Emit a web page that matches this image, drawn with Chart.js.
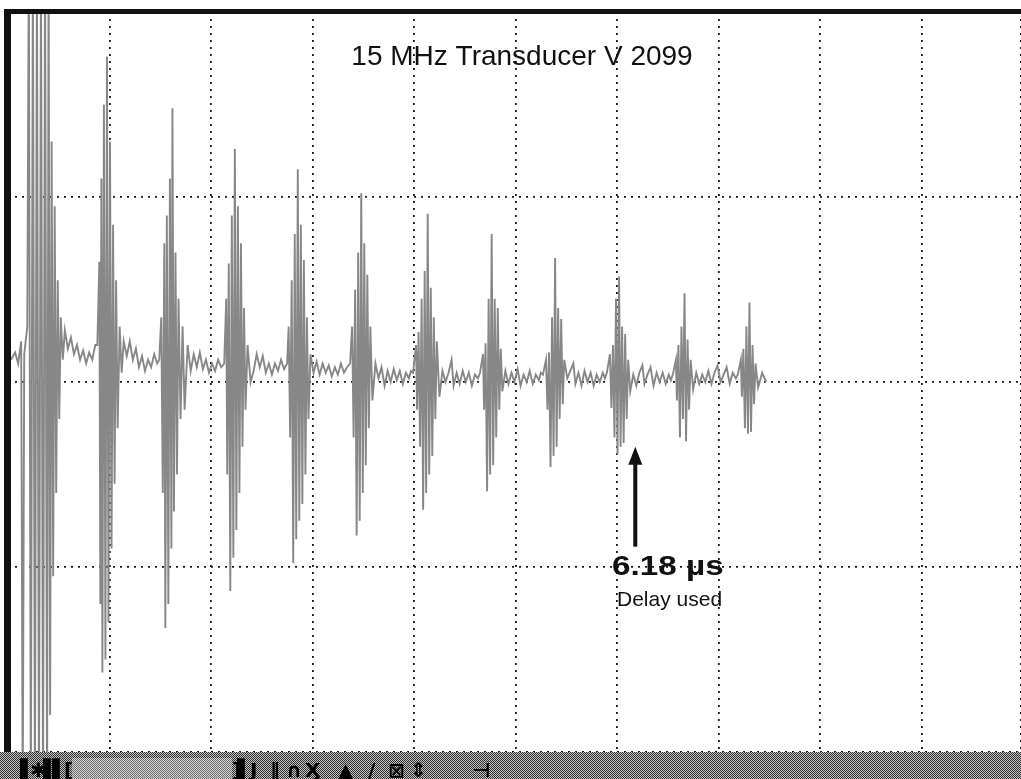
<!DOCTYPE html>
<html>
<head>
<meta charset="utf-8">
<script src="https://cdn.jsdelivr.net/npm/chart.js@4.4.0/dist/chart.umd.min.js"></script>
<style>
  html, body { margin: 0; padding: 0; background: #fff; }
  #wrap { width: 1021px; height: 779px; position: relative; }
</style>
</head>
<body>
<div id="wrap"><canvas id="scope"></canvas></div>
<script>
// time in µs (1 µs per division), amplitude in screen divisions
const bang = [
  [0.03, 0.12], [0.07, 0.16], [0.10, 0.10], [0.13, 0.22], [0.145, -2.3], [0.16, 0.15],
  [0.19, 0.3], [0.205, 2.3], [0.225, -2.3], [0.245, 2.3], [0.265, -2.3], [0.285, 2.3],
  [0.305, -2.3], [0.325, 2.3], [0.345, -2.3], [0.365, 2.3], [0.385, -2.3], [0.40, 2.3],
  [0.415, -1.8], [0.43, 1.3], [0.445, -1.05], [0.46, 0.95], [0.475, -0.6], [0.49, 0.55],
  [0.505, -0.2], [0.52, 0.35], [0.54, 0.12], [0.56, 0.28], [0.59, 0.18], [0.62, 0.24],
  [0.65, 0.15], [0.68, 0.2], [0.71, 0.12], [0.74, 0.17], [0.77, 0.1], [0.80, 0.16],
  [0.83, 0.12], [0.86, 0.2]
];
const echo1 = [
  [0.88, 0.2], [0.90, 0.65], [0.91, -1.2], [0.92, 1.1], [0.93, -1.57], [0.945, 1.5],
  [0.96, -1.5], [0.975, 1.76], [0.99, -1.3], [1.005, 1.3], [1.02, -0.9], [1.035, 0.85],
  [1.05, -0.55], [1.065, 0.55], [1.08, -0.25], [1.10, 0.3], [1.12, 0.05], [1.14, 0.22],
  [1.17, 0.14], [1.20, 0.22], [1.23, 0.12], [1.26, 0.18], [1.29, 0.08], [1.32, 0.14],
  [1.35, 0.06], [1.38, 0.12], [1.41, 0.08], [1.44, 0.15], [1.47, 0.1]
];
const echo2 = [
  [1.49, 0.12], [1.51, 0.35], [1.525, -0.6], [1.54, 0.75], [1.55, -1.33], [1.565, 0.9],
  [1.58, -1.2], [1.595, 1.1], [1.61, -0.9], [1.62, 1.48], [1.635, -0.7], [1.65, 0.7],
  [1.665, -0.5], [1.68, 0.45], [1.70, -0.2], [1.72, 0.3], [1.74, -0.15], [1.77, 0.2],
  [1.80, 0.06], [1.83, 0.15], [1.86, 0.08], [1.89, 0.16], [1.92, 0.07], [1.95, 0.12],
  [1.98, 0.05], [2.01, 0.1], [2.04, 0.06], [2.07, 0.12], [2.10, 0.08]
];
const echo3 = [
  [2.13, 0.1], [2.15, 0.45], [2.16, -0.5], [2.175, 0.64], [2.19, -1.13], [2.205, 0.9],
  [2.22, -0.95], [2.235, 1.26], [2.25, -0.8], [2.265, 0.95], [2.28, -0.6], [2.295, 0.75],
  [2.31, -0.35], [2.325, 0.4], [2.34, -0.15], [2.36, 0.2], [2.39, 0.0], [2.42, 0.06],
  [2.45, 0.15], [2.48, 0.08], [2.51, 0.14], [2.54, 0.05], [2.57, 0.1], [2.60, 0.04],
  [2.63, 0.1], [2.66, 0.06], [2.69, 0.12], [2.72, 0.07]
];
const echo4 = [
  [2.75, 0.1], [2.765, 0.3], [2.78, -0.3], [2.795, 0.55], [2.81, -0.98], [2.825, 0.8],
  [2.84, -0.85], [2.855, 1.15], [2.87, -0.75], [2.885, 0.85], [2.90, -0.66], [2.915, 0.66],
  [2.93, -0.5], [2.945, 0.35], [2.96, -0.2], [2.98, 0.15], [3.01, 0.05], [3.04, 0.11],
  [3.07, 0.04], [3.10, 0.1], [3.13, 0.05], [3.16, 0.09], [3.19, 0.03], [3.22, 0.08],
  [3.25, 0.04], [3.28, 0.1], [3.31, 0.05], [3.34, 0.08]
];
const echo5 = [
  [3.37, 0.1], [3.39, 0.3], [3.405, -0.3], [3.42, 0.5], [3.435, -0.83], [3.45, 0.7],
  [3.465, -0.75], [3.48, 1.02], [3.495, -0.6], [3.51, 0.75], [3.525, -0.45], [3.54, 0.58],
  [3.555, -0.25], [3.57, 0.3], [3.59, -0.1], [3.62, 0.1], [3.65, 0.02], [3.68, 0.08],
  [3.71, -0.02], [3.74, 0.06], [3.77, 0.0], [3.80, 0.07], [3.83, 0.01], [3.86, 0.06],
  [3.89, -0.01], [3.92, 0.05], [3.95, 0.02], [3.97, 0.06]
];
const echo6 = [
  [3.99, 0.05], [4.02, 0.2], [4.03, -0.15], [4.045, 0.27], [4.06, -0.35], [4.075, 0.45],
  [4.09, -0.69], [4.105, 0.6], [4.12, -0.6], [4.135, 0.91], [4.15, -0.5], [4.165, 0.51],
  [4.18, -0.4], [4.195, 0.35], [4.21, -0.2], [4.225, 0.22], [4.25, -0.08], [4.28, 0.06],
  [4.31, 0.0], [4.34, 0.05], [4.37, 0.12], [4.39, -0.02], [4.42, 0.05], [4.45, -0.01],
  [4.48, 0.06], [4.51, 0.0], [4.54, 0.05], [4.57, -0.02], [4.60, 0.04], [4.63, 0.02]
];
const echo7 = [
  [4.65, 0.05], [4.68, 0.15], [4.69, -0.15], [4.705, 0.21], [4.72, -0.59], [4.735, 0.45],
  [4.75, -0.5], [4.765, 0.8], [4.78, -0.45], [4.795, 0.45], [4.81, -0.3], [4.825, 0.4],
  [4.84, -0.15], [4.855, 0.18], [4.87, -0.05], [4.90, 0.06], [4.93, -0.01], [4.96, 0.05],
  [4.99, 0.0], [5.02, 0.07], [5.05, -0.02], [5.08, 0.04], [5.11, 0.0], [5.14, 0.06],
  [5.17, -0.01], [5.20, 0.04], [5.23, 0.01], [5.25, 0.05]
];
const echo8 = [
  [5.27, 0.04], [5.30, 0.12], [5.315, -0.15], [5.33, 0.16], [5.345, -0.46], [5.36, 0.35],
  [5.375, -0.4], [5.39, 0.67], [5.405, -0.35], [5.42, 0.4], [5.435, -0.2], [5.45, 0.34],
  [5.465, -0.12], [5.48, 0.12], [5.51, 0.02], [5.54, 0.06], [5.57, 0.1], [5.59, -0.01],
  [5.62, 0.05], [5.65, -0.02], [5.68, 0.06], [5.71, 0.0], [5.74, 0.05], [5.77, -0.02],
  [5.80, 0.04], [5.83, 0.0], [5.86, 0.05], [5.88, 0.02]
];
const echo9 = [
  [5.90, 0.05], [5.93, 0.15], [5.945, -0.14], [5.96, 0.2], [5.975, -0.3], [5.99, 0.45],
  [6.005, -0.39], [6.02, 0.57], [6.035, -0.35], [6.05, 0.3], [6.065, -0.33], [6.08, 0.26],
  [6.095, -0.2], [6.11, 0.12], [6.13, -0.05], [6.16, 0.04], [6.19, -0.02], [6.22, 0.05],
  [6.25, 0.09], [6.27, -0.01], [6.30, 0.04], [6.33, 0.08], [6.36, -0.02], [6.39, 0.05],
  [6.42, 0.0], [6.45, 0.05], [6.48, -0.01], [6.51, 0.04], [6.53, 0.01]
];
const echo10 = [
  [6.55, 0.04], [6.58, 0.12], [6.59, -0.1], [6.605, 0.2], [6.62, -0.3], [6.635, 0.3],
  [6.65, -0.2], [6.665, 0.48], [6.68, -0.32], [6.695, 0.23], [6.71, -0.15], [6.725, 0.12],
  [6.75, -0.04], [6.78, 0.05], [6.81, -0.01], [6.84, 0.04], [6.87, 0.0], [6.90, 0.06],
  [6.93, -0.01], [6.96, 0.05], [6.99, 0.09], [7.02, 0.0], [7.05, 0.04], [7.08, 0.08],
  [7.11, -0.01], [7.14, 0.05], [7.17, 0.02]
];
const echo11 = [
  [7.19, 0.04], [7.22, 0.12], [7.23, -0.08], [7.245, 0.18], [7.26, -0.25], [7.275, 0.3],
  [7.29, -0.28], [7.305, 0.43], [7.32, -0.27], [7.335, 0.2], [7.35, -0.12], [7.365, 0.1],
  [7.39, -0.03], [7.43, 0.05], [7.47, 0.0]
];

const traceSegments = [bang, echo1, echo2, echo3, echo4, echo5, echo6, echo7, echo8, echo9, echo10, echo11];

const timeRange = [0, 9.98];   // µs shown on screen
const voltRange = [-2, 2];     // divisions shown on screen
const delayUs = 6.18;
const titleText = '15 MHz Transducer V 2099';
const delayLabel = '6.18 µs';
const delayNote = 'Delay used';
const toolbarIcons = [
  ['▌', 20], ['✱', 30], ['▌', 43], ['▌', 52], ['[', 64], [']', 232], ['▌', 237],
  ['J', 250], ['‖', 270], ['∩', 286], ['Ӽ', 305], ['▲', 338], ['/', 368],
  ['⊠', 388], ['⇕', 410], ['⊣', 472]
];

const tracePoints = [];
traceSegments.forEach(seg => seg.forEach(p => tracePoints.push({ x: p[0], y: p[1] })));

// halftone grey like the scanned status bar
function halftone(ctx) {
  const c = document.createElement('canvas');
  c.width = 2; c.height = 2;
  const g = c.getContext('2d');
  g.fillStyle = '#c4c4c4'; g.fillRect(0, 0, 2, 2);
  g.fillStyle = '#2e2e2e'; g.fillRect(0, 0, 1, 1); g.fillRect(1, 1, 1, 1);
  return ctx.createPattern(c, 'repeat');
}

const scopeDecor = {
  id: 'scopeDecor',
  beforeDraw(chart) {
    const ctx = chart.ctx;
    ctx.save();
    ctx.fillStyle = '#fff';
    ctx.fillRect(0, 0, chart.width, chart.height);
    ctx.restore();
  },
  afterDraw(chart) {
    const ctx = chart.ctx;
    const a = chart.chartArea;
    const xs = chart.scales.x, ys = chart.scales.y;
    ctx.save();

    // bottom status bar
    ctx.fillStyle = halftone(ctx);
    ctx.fillRect(0, a.bottom, chart.width, chart.height - a.bottom);
    ctx.fillStyle = 'rgba(255,255,255,0.3)';
    ctx.fillRect(72, a.bottom + 6, 160, chart.height - a.bottom - 6);
    ctx.fillStyle = '#000';
    ctx.font = 'bold 20px "DejaVu Sans"';
    ctx.textBaseline = 'alphabetic';
    toolbarIcons.forEach(([g, x]) => ctx.fillText(g, x, chart.height - 2));

    // frame: heavy left and top edges
    ctx.fillStyle = '#111';
    ctx.fillRect(a.left - 4, a.top - 3, 7, a.bottom - a.top + 3);
    ctx.fillRect(a.left - 4, a.top - 3, chart.width, 5);

    // title
    ctx.fillStyle = '#111';
    ctx.font = '28px "Liberation Sans", Arial, sans-serif';
    ctx.textAlign = 'center';
    ctx.fillText(titleText, 522, 65);

    // delay arrow
    const ax = xs.getPixelForValue(delayUs);
    const tip = ys.getPixelForValue(-0.35);
    const tail = ys.getPixelForValue(-0.89);
    ctx.fillStyle = '#111';
    ctx.fillRect(ax - 2, tip + 12, 4, tail - tip - 12);
    ctx.beginPath();
    ctx.moveTo(ax, tip);
    ctx.lineTo(ax - 7, tip + 18);
    ctx.lineTo(ax + 7, tip + 18);
    ctx.closePath();
    ctx.fill();

    // delay labels
    ctx.textAlign = 'left';
    ctx.save();
    ctx.translate(612, 575);
    ctx.scale(1.28, 1.05);
    ctx.font = 'bold 26px "Liberation Sans", Arial, sans-serif';
    ctx.fillText(delayLabel, 0, 0);
    ctx.restore();
    ctx.font = '21px "Liberation Sans", Arial, sans-serif';
    ctx.fillText(delayNote, 617, 606);

    ctx.restore();
  }
};

new Chart(document.getElementById('scope').getContext('2d'), {
  type: 'scatter',
  data: {
    datasets: [{
      data: tracePoints,
      showLine: true,
      pointRadius: 0,
      borderColor: 'rgb(135,135,135)',
      borderWidth: 1.9,
      tension: 0
    }]
  },
  options: {
    responsive: true,
    maintainAspectRatio: false,
    animation: false,
    layout: { padding: { left: 8, top: 12, right: 0, bottom: 27 } },
    plugins: { legend: { display: false }, tooltip: { enabled: false } },
    scales: {
      x: {
        type: 'linear',
        min: timeRange[0],
        max: timeRange[1],
        ticks: { display: false, stepSize: 1 },
        grid: { drawTicks: false, color: '#1a1a1a', lineWidth: 1.8 },
        border: { display: false, dash: [2, 5] }
      },
      y: {
        type: 'linear',
        min: voltRange[0],
        max: voltRange[1],
        ticks: { display: false, stepSize: 1 },
        grid: { drawTicks: false, color: '#1a1a1a', lineWidth: 1.8 },
        border: { display: false, dash: [2, 5] }
      }
    }
  },
  plugins: [scopeDecor]
});
</script>
</body>
</html>
